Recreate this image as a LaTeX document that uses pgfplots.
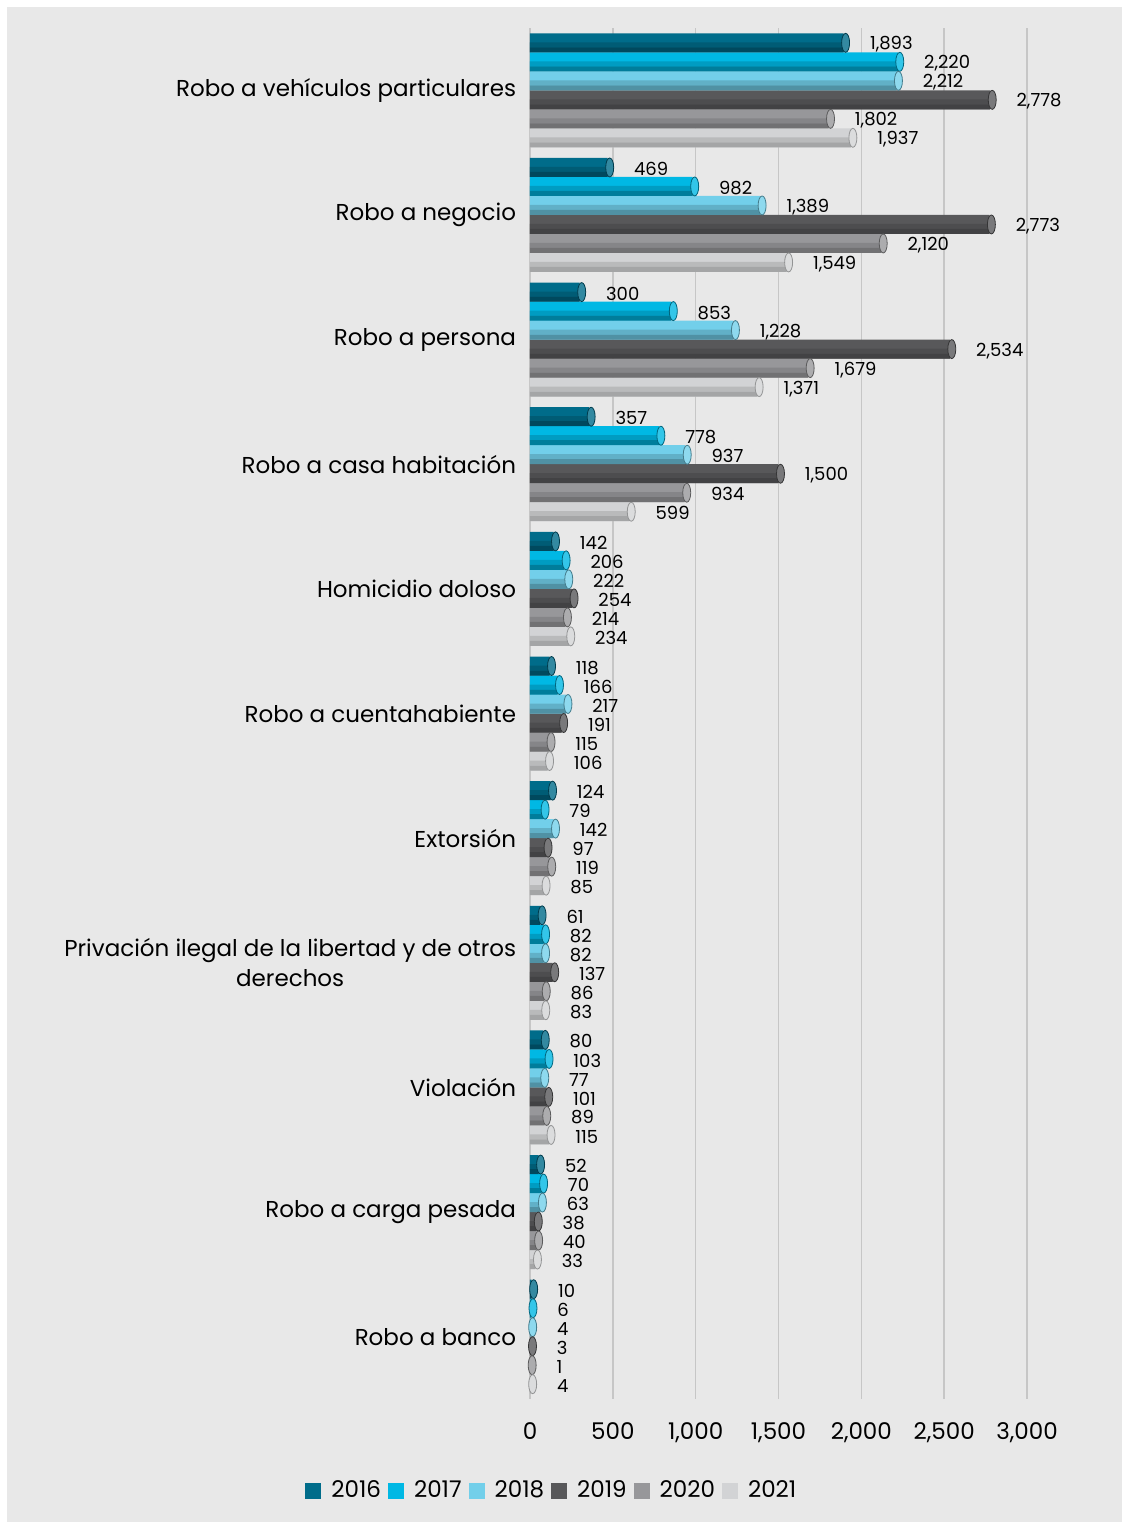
\documentclass[border=0pt]{standalone}
\usepackage{pgfplots}
\usepackage{pgfplotstable}
\pgfplotsset{compat=1.18}
\usepackage{fontspec}
\setmainfont{Poppins}
\definecolor{bgc}{HTML}{E8E8E8}
\definecolor{gridc}{HTML}{C6C6C6}
\definecolor{c16}{HTML}{006C8A}
\definecolor{c17}{HTML}{00B8E4}
\definecolor{c18}{HTML}{72CFEA}
\definecolor{c19}{HTML}{58585A}
\definecolor{c20}{HTML}{97979A}
\definecolor{c21}{HTML}{D2D3D5}
\pgfkeys{/pgf/number format/.cd, 1000 sep={,}, assume math mode=true}

% columns: idx, 2016 ... 2021
\pgfplotstableread{
idx a b c d e f
0 1893 2220 2212 2778 1802 1937
1 469 982 1389 2773 2120 1549
2 300 853 1228 2534 1679 1371
3 357 778 937 1500 934 599
4 142 206 222 254 214 234
5 118 166 217 191 115 106
6 124 79 142 97 119 85
7 61 82 82 137 86 83
8 80 103 77 101 89 115
9 52 70 63 38 40 33
10 10 6 4 3 1 4
}\datatable

\pgfplotsset{
  capstyle/.style n args={3}{forget plot, only marks, mark=*, mark size=4.75pt,
    mark options={xshift=1pt, yshift=#1, xscale=0.42, fill=#2!80!white, draw=#2!#3!black, line width=0.4pt}},
  barstyle/.style n args={2}{forget plot, draw=none, bar shift=#1, fill=#2,
    nodes near coords={\pgfmathprintnumber{\pgfplotspointmeta}},
    nodes near coords style={anchor=west, inner sep=0pt, xshift=13pt, yshift=-0.8pt, font=\fontsize{9}{10}\selectfont, text=black}},
  stripstyle/.style n args={2}{forget plot, draw=none, bar width=2.5pt, bar shift=#1, fill=#2},
}

\begin{document}
\begin{tikzpicture}
\fill[white] (0,0) rectangle (561pt,761pt);
\fill[bgc] (3.5pt,0) rectangle (561pt,757.5pt);
\begin{axis}[
  at={(265pt,61.5pt)}, anchor=south west,
  scale only axis, width=248.5pt, height=685.5pt,
  xmin=0, xmax=3000, ymin=-0.5, ymax=10.5,
  y dir=reverse, clip=false,
  xbar, bar width=9.5pt,
  axis line style={draw=none}, tick style={draw=none},
  xmajorgrids, grid style={gridc, line width=0.8pt},
  xtick={0,500,...,3000},
  ytick={0,...,10},
  yticklabels={Robo a vehículos particulares, Robo a negocio, Robo a persona, Robo a casa habitación, Homicidio doloso, Robo a cuentahabiente, Extorsión, {Privación ilegal de la libertad y de otros\\derechos}, Violación, Robo a carga pesada, Robo a banco},
  yticklabel style={align=center, inner sep=0pt, xshift=-2.5pt, font=\fontsize{11.5}{15}\selectfont},
  xticklabel style={inner sep=0pt, yshift=-11.5pt, font=\fontsize{11.5}{14}\selectfont},
  point meta=x,
  legend columns=6,
  legend style={draw=none, fill=none, at={(0.046,-0.067)}, anchor=center,
    font=\fontsize{11.5}{14}\selectfont,
    /tikz/every even column/.append style={column sep=1.5pt}},
  legend image code/.code={\fill[#1, draw=none] (0pt,-4pt) rectangle (8pt,4pt); \path (11pt,0pt);},
]
\addlegendimage{fill=c16, draw=none}
\addlegendimage{fill=c17, draw=none}
\addlegendimage{fill=c18, draw=none}
\addlegendimage{fill=c19, draw=none}
\addlegendimage{fill=c20, draw=none}
\addlegendimage{fill=c21, draw=none}
% main bars
\addplot[barstyle={23.75pt}{c16}] table[x=a, y=idx] {\datatable};
\addplot[barstyle={14.25pt}{c17}] table[x=b, y=idx] {\datatable};
\addplot[barstyle={4.75pt}{c18}] table[x=c, y=idx] {\datatable};
\addplot[barstyle={-4.75pt}{c19}] table[x=d, y=idx] {\datatable};
\addplot[barstyle={-14.25pt}{c20}] table[x=e, y=idx] {\datatable};
\addplot[barstyle={-23.75pt}{c21}] table[x=f, y=idx] {\datatable};
% darker lower strips (cylinder shading)
\addplot[stripstyle={22.75pt}{c16!85!black}] table[x=a, y=idx] {\datatable};
\addplot[stripstyle={20.25pt}{c16!68!black}] table[x=a, y=idx] {\datatable};
\addplot[stripstyle={13.25pt}{c17!85!black}] table[x=b, y=idx] {\datatable};
\addplot[stripstyle={10.75pt}{c17!68!black}] table[x=b, y=idx] {\datatable};
\addplot[stripstyle={3.75pt}{c18!85!black}] table[x=c, y=idx] {\datatable};
\addplot[stripstyle={1.25pt}{c18!70!black}] table[x=c, y=idx] {\datatable};
\addplot[stripstyle={-5.75pt}{c19!88!black}] table[x=d, y=idx] {\datatable};
\addplot[stripstyle={-8.25pt}{c19!75!black}] table[x=d, y=idx] {\datatable};
\addplot[stripstyle={-15.25pt}{c20!88!black}] table[x=e, y=idx] {\datatable};
\addplot[stripstyle={-17.75pt}{c20!75!black}] table[x=e, y=idx] {\datatable};
\addplot[stripstyle={-24.75pt}{c21!88!black}] table[x=f, y=idx] {\datatable};
\addplot[stripstyle={-27.25pt}{c21!78!black}] table[x=f, y=idx] {\datatable};
% cylinder caps
\addplot[capstyle={23.75pt}{c16}{55}] table[x=a, y=idx] {\datatable};
\addplot[capstyle={14.25pt}{c17}{55}] table[x=b, y=idx] {\datatable};
\addplot[capstyle={4.75pt}{c18}{60}] table[x=c, y=idx] {\datatable};
\addplot[capstyle={-4.75pt}{c19}{60}] table[x=d, y=idx] {\datatable};
\addplot[capstyle={-14.25pt}{c20}{60}] table[x=e, y=idx] {\datatable};
\addplot[capstyle={-23.75pt}{c21}{70}] table[x=f, y=idx] {\datatable};
\legend{2016,2017,2018,2019,2020,2021}
\end{axis}
\end{tikzpicture}
\end{document}
